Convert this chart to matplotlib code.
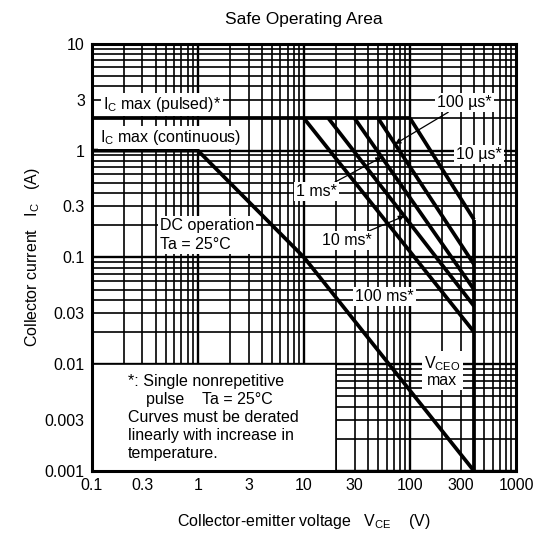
import matplotlib.pyplot as plt
import numpy as np
from matplotlib.patches import Rectangle

plt.rcParams['font.family'] = ['Liberation Sans', 'DejaVu Sans']
plt.rcParams['font.size'] = 11.5

# Achsen / ticks
x_ticks = [0.1, 0.3, 1, 3, 10, 30, 100, 300, 1000]
x_labels = ['0.1', '0.3', '1', '3', '10', '30', '100', '300', '1000']
y_ticks = [0.001, 0.003, 0.01, 0.03, 0.1, 0.3, 1, 3, 10]
y_labels = ['0.001', '0.003', '0.01', '0.03', '0.1', '0.3', '1', '3', '10']

# DC-kurve (V_CE, I_C)
dc_v = [0.1, 1, 10, 400]
dc_i = [1, 1, 0.1, 0.001]

# IC max (pulsed)
ic_pulsed = 2
vceo = 400

# pulskurver: start ved 2 A, slutt ved VCEO
pulse_names = ['100 ms*', '10 ms*', '1 ms*', '100 µs*', '10 µs*']
pulse_v_start = [10, 17, 30, 50, 100]
pulse_i_end = [0.02, 0.035, 0.05, 0.086, 0.226]


def pulse_i(v, k):
    # rett linje i log-log mellom start- og sluttpunkt
    s = np.log10(pulse_i_end[k] / ic_pulsed) / np.log10(vceo / pulse_v_start[k])
    return ic_pulsed * (v / pulse_v_start[k]) ** s


fig = plt.figure(figsize=(5.4, 5.47), dpi=100)
ax = fig.add_axes([0.170, 0.139, 0.786, 0.781])
ax.set_xscale('log')
ax.set_yscale('log')
ax.set_xlim(0.1, 1000)
ax.set_ylim(0.001, 10)

# rutenett
for d in [0.1, 1, 10, 100]:
    for k in range(1, 10):
        ax.axvline(d * k, color='black', lw=1.7 if k == 1 else 1.2, zorder=0.5)
for d in [0.001, 0.01, 0.1, 1]:
    for k in range(1, 10):
        ax.axhline(d * k, color='black', lw=1.7 if k == 1 else 1.2, zorder=0.5)

# hvit boks for merknaden
ax.add_patch(Rectangle((0.1, 0.001), 20 - 0.1, 0.01 - 0.001, facecolor='white',
                       edgecolor='black', lw=1.2, zorder=1))

# kurver
kw = dict(color='black', lw=2.7, solid_capstyle='butt', solid_joinstyle='miter', zorder=3)
ax.plot(dc_v, dc_i, **kw)
ax.plot([0.1, pulse_v_start[-1]], [ic_pulsed, ic_pulsed], **kw)
for k in range(len(pulse_names)):
    ax.plot([pulse_v_start[k], vceo], [ic_pulsed, pulse_i_end[k]], **kw)
ax.plot([vceo, vceo], [max(pulse_i_end), 0.001], **kw)

box = dict(facecolor='white', edgecolor='none', pad=1.5)
arrow = dict(arrowstyle='-|>', color='black', lw=0.9, mutation_scale=8, shrinkA=0, shrinkB=0)

ax.text(0.127, 2.69, r'$\mathregular{I_C}$ max (pulsed)*', va='center', ha='left', bbox=box, zorder=4)
ax.text(0.119, 1.32, r'$\mathregular{I_C}$ max (continuous)', va='center', ha='left', bbox=box, zorder=4)
ax.text(0.437, 0.162, 'DC operation\nTa = 25°C', va='center', ha='left', bbox=box,
        linespacing=1.3, zorder=4)

ax.annotate('100 µs*', xy=(72, pulse_i(72, 3)), xytext=(324, 2.81), ha='center', va='center',
            bbox=box, arrowprops=arrow, zorder=4)
ax.text(448, 0.918, '10 µs*', ha='center', va='center', bbox=box, zorder=4)
ax.annotate('1 ms*', xy=(54, pulse_i(54, 2)), xytext=(13.1, 0.41), ha='center', va='center',
            bbox=box, arrowprops=arrow, zorder=4)
ax.annotate('10 ms*', xy=(88, pulse_i(88, 1)), xytext=(25.1, 0.144), ha='center', va='center',
            bbox=box, arrowprops=arrow, zorder=4)
ax.text(57.3, 0.0432, '100 ms*', ha='center', va='center', bbox=box, zorder=4)
ax.text(201, 0.0086, r'$\mathregular{V_{CEO}}$' + '\nmax', ha='center', va='center',
        bbox=box, linespacing=1.0, zorder=4)

ax.text(0.218, 0.0081,
        '*: Single nonrepetitive\n    pulse    Ta = 25°C\nCurves must be derated\n'
        'linearly with increase in\ntemperature.',
        ha='left', va='top', linespacing=1.25, zorder=4)

# akser
ax.set_xticks(x_ticks)
ax.set_xticklabels(x_labels)
ax.set_yticks(y_ticks)
ax.set_yticklabels(y_labels)
ax.minorticks_off()
ax.tick_params(length=0, pad=5)
for s in ax.spines.values():
    s.set_linewidth(2.2)
    s.set_zorder(5)

ax.set_title('Safe Operating Area', fontsize=12.5, pad=14)
ax.set_xlabel(r'Collector-emitter voltage   $\mathregular{V_{CE}}$    (V)', labelpad=14)
ax.set_ylabel(r'Collector current   $\mathregular{I_C}$   (A)', labelpad=2)

fig.savefig('out.png', dpi=100)
